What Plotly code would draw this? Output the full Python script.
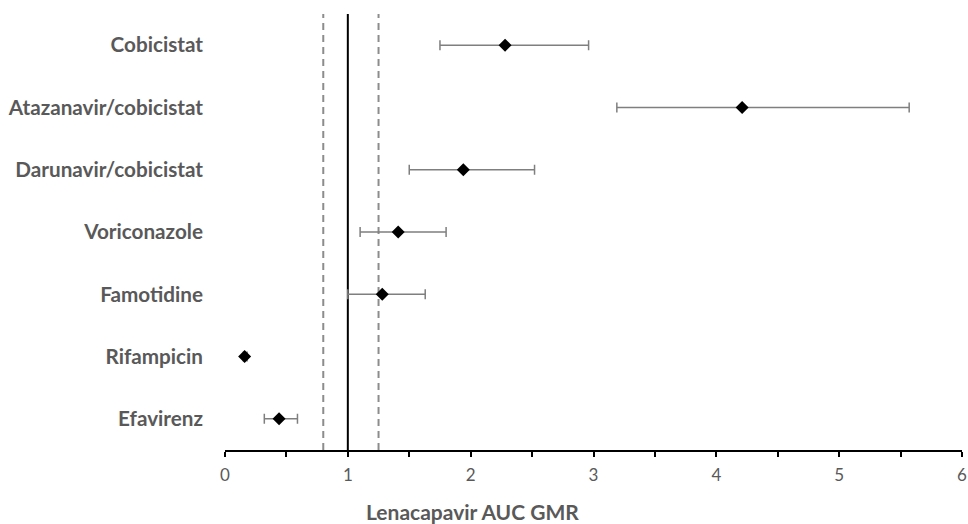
import plotly.graph_objects as go

categories = ["Cobicistat", "Atazanavir/cobicistat", "Darunavir/cobicistat",
              "Voriconazole", "Famotidine", "Rifampicin", "Efavirenz"]
gmr = [2.28, 4.21, 1.94, 1.41, 1.28, 0.16, 0.44]
ci_low = [1.75, 3.19, 1.50, 1.10, 1.00, 0.15, 0.32]
ci_high = [2.96, 5.57, 2.52, 1.80, 1.63, 0.18, 0.59]
ref_lines = [0.8, 1.25]
x_ticks = [0, 1, 2, 3, 4, 5, 6]

n = len(categories)
ypos = [n - 1 - i for i in range(n)]

fig = go.Figure()
fig.add_trace(go.Scatter(
    x=gmr, y=ypos, mode="markers",
    marker=dict(symbol="diamond", size=10, color="black"),
    error_x=dict(type="data", symmetric=False,
                 array=[h - g for h, g in zip(ci_high, gmr)],
                 arrayminus=[g - l for g, l in zip(gmr, ci_low)],
                 color="#7f7f7f", thickness=1.5, width=5),
    showlegend=False, hoverinfo="skip", cliponaxis=False))

for v in ref_lines:
    fig.add_shape(type="line", x0=v, x1=v, y0=0, y1=1, xref="x", yref="paper",
                  line=dict(color="#8c8c8c", width=2, dash="7px,5px"), layer="below")
fig.add_shape(type="line", x0=1, x1=1, y0=0, y1=1, xref="x", yref="paper",
              line=dict(color="black", width=2), layer="below")

L, R, T, B = 225, 6, 14, 74
fig.update_layout(
    width=968, height=524,
    margin=dict(l=L, r=R, t=T, b=B),
    paper_bgcolor="white", plot_bgcolor="white",
    font=dict(family="Lato, sans-serif", color="#595959"),
    xaxis=dict(range=[0, 6], tickvals=x_ticks, ticktext=[str(t) for t in x_ticks],
               automargin=False, ticklabeloverflow="allow",
               showgrid=False, zeroline=False, showline=True, linecolor="black",
               linewidth=1.5, ticks="outside", ticklen=5, tickcolor="black", tickwidth=1.5,
               minor=dict(dtick=0.5, ticks="outside", ticklen=5, tickcolor="black", tickwidth=1.5),
               ticklabelstandoff=4,
               tickfont=dict(size=17, color="#595959", family="Lato, sans-serif")),
    yaxis=dict(range=[-0.5, 6.5], tickvals=ypos, ticktext=categories,
               automargin=False,
               showgrid=False, zeroline=False, showline=False, ticks="",
               ticklabelstandoff=21,
               tickfont=dict(size=20.7, color="#595959", family="Lato, sans-serif", weight="bold")),
    annotations=[dict(text="<b>Lenacapavir AUC GMR</b>",
                      x=(472 - L) / (968 - L - R), y=-(511 - (524 - B)) / (524 - T - B),
                      xref="paper", yref="paper", showarrow=False,
                      yanchor="middle", xanchor="center",
                      font=dict(size=21, color="#595959", family="Lato, sans-serif"))],
)

fig.write_html("out.html", config={"displayModeBar": False},
               post_script="document.body.style.margin='0';document.body.style.overflow='hidden';")
